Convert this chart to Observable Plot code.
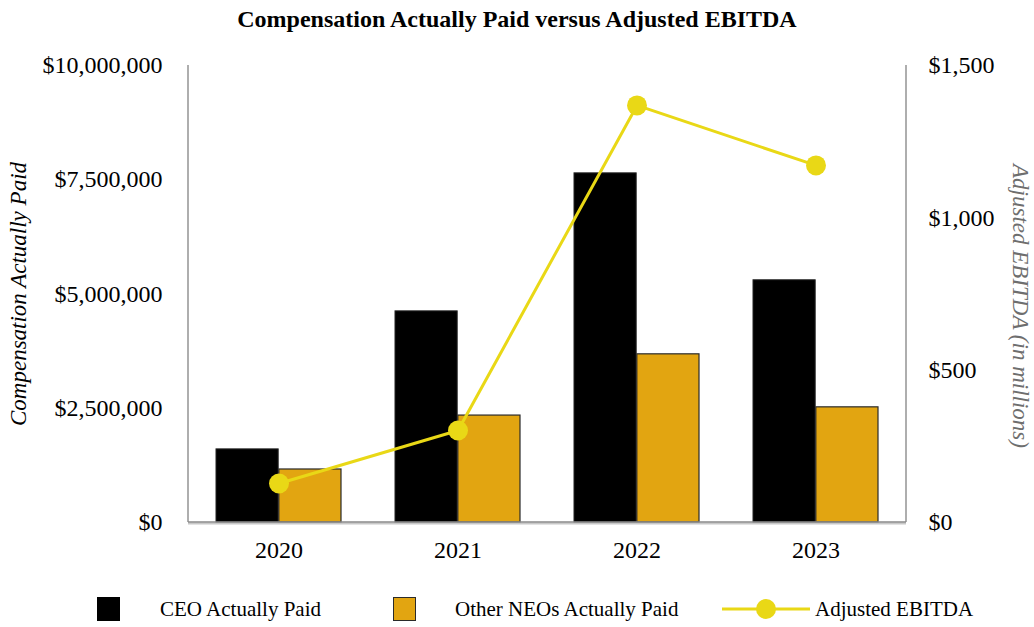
<!DOCTYPE html>
<html><head><meta charset="utf-8">
<script src="https://cdn.jsdelivr.net/npm/d3@7"></script>
<script src="https://cdn.jsdelivr.net/npm/@observablehq/plot@0.6"></script>
<style>
html,body{margin:0;padding:0;background:#fff;}
body{font-family:"Liberation Serif","Times New Roman",serif;width:1034px;height:627px;overflow:hidden;}
#title{height:35px;line-height:38px;text-align:center;font-weight:bold;font-size:24px;color:#000;white-space:nowrap;}
#chart svg{display:block;}
#legend{position:relative;height:42px;font-size:21px;color:#000;}
#legend .it{position:absolute;top:12px;height:24px;display:flex;align-items:center;white-space:nowrap;}
#legend .sw{position:absolute;box-sizing:border-box;}
</style></head><body>
<div id="title">Compensation Actually Paid versus Adjusted EBITDA</div>
<div id="chart"></div>
<div id="legend"></div>
<script>
const years = ["2020","2021","2022","2023"];
const ceoPaid = [1600000, 4620000, 7640000, 5300000];
const otherNeosPaid = [1160000, 2340000, 3680000, 2520000];
const adjustedEbitda = [128, 302, 1369, 1172];
const leftTicks = [0, 2500000, 5000000, 7500000, 10000000];
const rightTicks = [0, 500, 1000, 1500];
const seriesNames = ["CEO Actually Paid", "Other NEOs Actually Paid", "Adjusted EBITDA"];

const colCeo = "#000000", colOther = "#E2A511", colLine = "#E9D816";
const W = 1034, H = 550, mL = 188, mR = 128, mT = 30, mB = 63;
const yMax = 10000000, rMax = 1500, k = yMax / rMax;
const data = years.map((y, i) => ({year: y, ceo: ceoPaid[i], other: otherNeosPaid[i], ebitda: adjustedEbitda[i]}));

const pIn = 0.3, pOut = 0.15;
const step = (W - mL - mR) / (years.length - pIn + 2 * pOut);
const half = step * (1 - pIn) / 2;
const fmt = d3.format(",");

const chart = Plot.plot({
  width: W, height: H,
  marginLeft: mL, marginRight: mR, marginTop: mT, marginBottom: mB,
  style: {fontFamily: "'Liberation Serif','Times New Roman',serif", background: "#fff", color: "#000"},
  x: {type: "band", domain: years, paddingInner: pIn, paddingOuter: pOut},
  y: {domain: [0, yMax]},
  marks: [
    Plot.barY(data, {x: "year", y: "ceo", fill: colCeo, stroke: "#222", strokeWidth: 1, insetRight: half}),
    Plot.barY(data, {x: "year", y: "other", fill: colOther, stroke: "#2a2a2a", strokeWidth: 1.2, insetLeft: half}),
    Plot.line(data, {x: "year", y: d => d.ebitda * k, stroke: colLine, strokeWidth: 3}),
    Plot.dot(data, {x: "year", y: d => d.ebitda * k, r: 10, fill: colLine, stroke: "none"}),
    Plot.axisY({anchor: "left", ticks: leftTicks, tickFormat: d => "$" + fmt(d), tickSize: 0, tickPadding: 26, fontSize: 24, label: null}),
    Plot.axisY({anchor: "right", ticks: rightTicks.map(v => v * k), tickFormat: d => "$" + fmt(Math.round(d / k)), tickSize: 0, tickPadding: 22, fontSize: 24, label: null}),
    Plot.axisX({tickSize: 0, tickPadding: 18, fontSize: 24, label: null}),
    Plot.text(["Compensation Actually Paid"], {frameAnchor: "left", textAnchor: "middle", dx: -170, dy: 0, rotate: -90, fontSize: 23, fontStyle: "italic", fill: "#000"}),
    Plot.text(["Adjusted EBITDA (in millions)"], {frameAnchor: "right", textAnchor: "middle", dx: 114, dy: 12, rotate: 90, fontSize: 23, fontStyle: "italic", fill: "#6e6e6e"})
  ]
});

// axis lines
const svg = d3.select(chart);
const yB = H - mB, yT = mT;
const g = svg.append("g");
g.append("line").attr("x1", mL).attr("x2", mL).attr("y1", yT).attr("y2", yB).attr("stroke", "#9a9a9a").attr("stroke-width", 1.6);
g.append("line").attr("x1", W - mR).attr("x2", W - mR).attr("y1", yT).attr("y2", yB).attr("stroke", "#9a9a9a").attr("stroke-width", 1.6);
g.append("line").attr("x1", mL).attr("x2", W - mR).attr("y1", yB + 1.5).attr("y2", yB + 1.5).attr("stroke", "#c8c8c8").attr("stroke-width", 2);
g.append("line").attr("x1", mL).attr("x2", W - mR).attr("y1", yB).attr("y2", yB).attr("stroke", "#8a8a8a").attr("stroke-width", 1.6);
document.getElementById("chart").appendChild(chart);

// legend
const lg = document.getElementById("legend");
function add(html){ lg.insertAdjacentHTML("beforeend", html); }
add(`<div class="sw" style="left:97px;top:12px;width:23px;height:24px;background:${colCeo};"></div>`);
add(`<div class="it" style="left:160px;">${seriesNames[0]}</div>`);
add(`<div class="sw" style="left:393px;top:12px;width:23px;height:24px;background:${colOther};border:1.5px solid #2a2a2a;"></div>`);
add(`<div class="it" style="left:455px;">${seriesNames[1]}</div>`);
add(`<svg style="position:absolute;left:720px;top:12px" width="92" height="24"><line x1="2" x2="90" y1="12" y2="12" stroke="${colLine}" stroke-width="3"/><circle cx="46" cy="12" r="10" fill="${colLine}"/></svg>`);
add(`<div class="it" style="left:815px;">${seriesNames[2]}</div>`);
</script>
</body></html>
